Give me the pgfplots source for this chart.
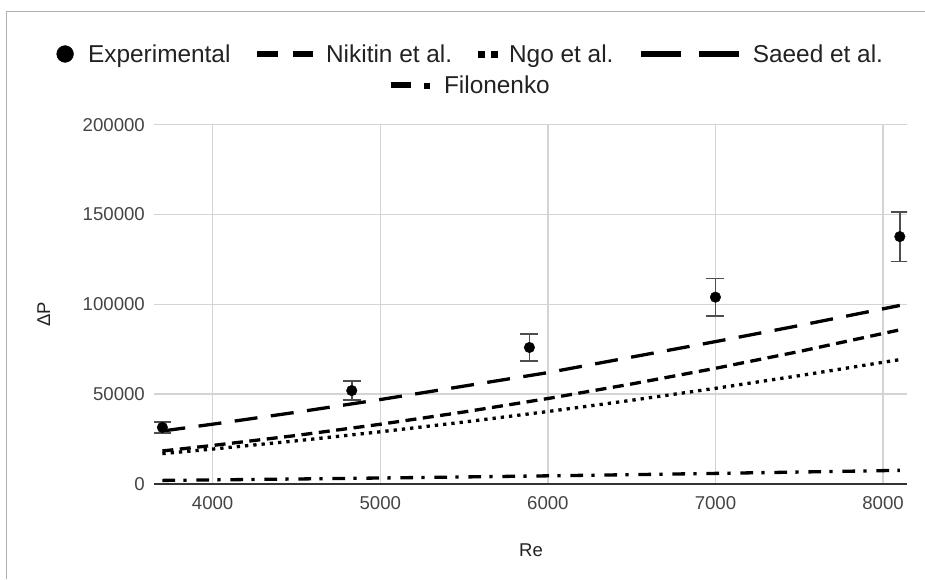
\documentclass[border=0pt]{standalone}
\usepackage{fontspec}
\setmainfont{Liberation Sans}
\usepackage{pgfplots}
\pgfplotsset{compat=1.18}

\definecolor{gridgray}{HTML}{D4D4D4}
\definecolor{basegray}{HTML}{333333}
\definecolor{tickgray}{HTML}{444444}
\definecolor{textgray}{HTML}{222222}
\definecolor{errgray}{HTML}{4D4D4D}
\definecolor{framegray}{HTML}{B0B0B0}

\pgfplotsset{
  nikitin/.style={black, line width=3.3pt, no marks, dash pattern=on 11pt off 6.5pt},
  ngo/.style={black, line width=3.3pt, no marks, dash pattern=on 3.3pt off 5pt},
  saeed/.style={black, line width=3.3pt, no marks, dash pattern=on 23pt off 13.5pt},
  filonenko/.style={black, line width=3.3pt, no marks, dash pattern=on 12.7pt off 8.3pt on 3.3pt off 9.7pt},
  keystyle/.style={
    legend columns=-1,
    legend style={draw=none, fill=none, inner sep=0pt, outer sep=0pt,
      column sep=0pt, row sep=0pt, anchor=north west,
      font=\fontsize{24.4}{29}\selectfont, text=textgray,
      nodes={inner sep=0pt, outer sep=0pt},
      cells={anchor=base west}},
  },
  keyaxis/.style={
    at={(0pt,0pt)}, anchor=south west, scale only axis,
    width=925pt, height=579pt, xmin=0, xmax=925, ymin=0, ymax=579,
    hide axis, keystyle,
  },
}

\begin{document}
\begin{tikzpicture}
\useasboundingbox (0pt,0pt) rectangle (925pt,579pt);
\draw[framegray, line width=1.5pt] (6.7pt,0pt) -- (6.7pt,567.3pt) -- (925pt,567.3pt);

\begin{axis}[
  at={(154pt,95pt)}, anchor=south west,
  scale only axis, width=753pt, height=359.3pt,
  xmin=3650, xmax=8143, ymin=0, ymax=200000,
  xtick={4000,5000,6000,7000,8000},
  ytick={50000,100000,150000,200000},
  extra y ticks={0},
  extra y tick style={grid=major, major grid style={basegray, line width=2pt}},
  grid=major,
  major grid style={gridgray, line width=1.5pt},
  axis line style={draw=none},
  major tick length=0pt,
  scaled ticks=false,
  /pgf/number format/.cd, fixed, precision=0, 1000 sep={}, assume math mode=true, /pgfplots/.cd,
  tick label style={font=\fontsize{18.6}{22}\selectfont, text=tickgray},
  xticklabel style={anchor=base, yshift=-25.3pt},
  yticklabel style={anchor=east, inner sep=0pt, xshift=-9pt},
  xlabel={Re}, ylabel={ΔP},
  label style={font=\fontsize{18.5}{22}\selectfont, text=textgray},
  xlabel style={at={(axis description cs:0.5007,-0.2023)}, anchor=base},
  ylabel style={at={(axis description cs:-0.1381,0.4731)}, anchor=base},
]

% model correlations
\addplot[nikitin] table[x=Re, y=dP] {
Re   dP
3700 18400
4000 21450
4500 27030
5000 33250
5500 40100
6000 47580
6500 55680
7000 64400
7500 73760
8100 85800
};
\addplot[ngo] table[x=Re, y=dP] {
Re   dP
3700 16900
4000 19450
4500 24040
5000 29060
5500 34500
6000 40340
6500 46600
7000 53250
7500 60300
8100 69240
};
\addplot[saeed] table[x=Re, y=dP] {
Re   dP
3700 29500
4000 33300
4500 39950
5000 47000
5500 54500
6000 62000
6500 70650
7000 79260
7500 88200
8100 99380
};
\addplot[filonenko] table[x=Re, y=dP] {
Re   dP
3700 2000
4000 2280
4500 2790
5000 3340
5500 3920
6000 4550
6500 5210
7000 5910
7500 6650
8100 7600
};

% measurements with 10% error bars
\addplot[black, only marks, mark=*, mark size=5.3pt,
  error bars/.cd, y dir=both, y explicit,
  error bar style={line width=1.6pt, errgray},
  error mark options={rotate=90, line width=1.6pt, errgray, mark size=9pt}]
  table[x=Re, y=dP, y error=err] {
Re   dP     err
3700 31500  3150
4830 52000  5200
5890 76000  7600
7000 104000 10400
8100 137700 13770
};
\end{axis}

% key, first row
\begin{axis}[keyaxis, legend style={at={(0.061081,0.933506)}}]
\addlegendimage{legend image code/.code={
  \path[draw=none, fill=none] (0pt,-6pt) rectangle (31.5pt,24pt);
  \fill[black] (8.5pt,8.5pt) circle[radius=8.4pt];}}
\addlegendentry{\makebox[144pt][l]{Experimental}}
\addlegendimage{legend image code/.code={
  \path[draw=none, fill=none] (0pt,-6pt) rectangle (94pt,24pt);
  \draw[black, line width=6pt] (25.3pt,8.5pt) -- (45.7pt,8.5pt) (60.7pt,8.5pt) -- (80.7pt,8.5pt);}}
\addlegendentry{\makebox[125.7pt][l]{Nikitin et al.}}
\addlegendimage{legend image code/.code={
  \path[draw=none, fill=none] (0pt,-6pt) rectangle (57.3pt,24pt);
  \fill[black] (26.6pt,5.65pt) rectangle (32.3pt,11.35pt) (39.3pt,5.65pt) rectangle (45pt,11.35pt);}}
\addlegendentry{\makebox[104.4pt][l]{Ngo et al.}}
\addlegendimage{legend image code/.code={
  \path[draw=none, fill=none] (0pt,-6pt) rectangle (139.3pt,24pt);
  \draw[black, line width=6pt] (27.3pt,8.5pt) -- (67.3pt,8.5pt) (85.9pt,8.5pt) -- (125.9pt,8.5pt);}}
\addlegendentry{\makebox[130pt][l]{Saeed et al.}}
\end{axis}

% key, second row
\begin{axis}[keyaxis, legend style={at={(0.410811,0.879102)}}]
\addlegendimage{legend image code/.code={
  \path[draw=none, fill=none] (0pt,-6pt) rectangle (64pt,24pt);
  \draw[black, line width=6pt] (10.7pt,8.5pt) -- (30.7pt,8.5pt);
  \fill[black] (44.3pt,5.8pt) rectangle (49.6pt,11.2pt);}}
\addlegendentry{\makebox[105.8pt][l]{Filonenko}}
\end{axis}
\end{tikzpicture}
\end{document}
